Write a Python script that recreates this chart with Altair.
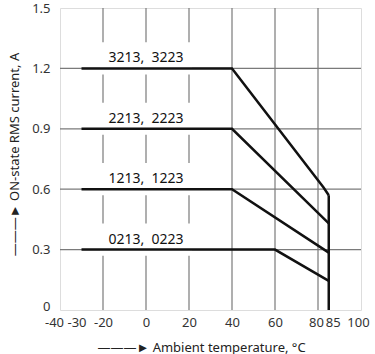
import altair as alt
import pandas as pd

NB = "\u00A0"
# Curves (ambient temperature °C, ON-state RMS current A)
names = ["3213," + NB + NB + "3223", "2213," + NB + NB + "2223",
         "1213," + NB + NB + "1223", "0213," + NB + NB + "0223"]
curve_t = [
    [-30, 40, 82.5, 85],
    [-30, 40, 85],
    [-30, 40, 85],
    [-30, 60, 85],
]
curve_i = [
    [1.2, 1.2, 0.61, 0.57],
    [0.9, 0.9, 0.43],
    [0.6, 0.6, 0.285],
    [0.3, 0.3, 0.145],
]
limit_t = [85, 85]
limit_i = [0, 0.57]

label_t = [0, 0, 0, 0]
label_i = [1.25, 0.95, 0.65, 0.35]

x_ticks = [-40, -30, -20, 0, 20, 40, 60, 80, 85, 100]
y_ticks = [0, 0.3, 0.6, 0.9, 1.2, 1.5]
x_grid = [-20, 0, 20, 40, 60, 80]
y_grid = [0.3, 0.6, 0.9, 1.2]

FONT = "Noto Sans"

rows = []
for n, ts, cs in zip(names, curve_t, curve_i):
    for k, (t, c) in enumerate(zip(ts, cs)):
        rows.append({"series": n, "t": t, "i": c, "o": k})
rows += [{"series": "limit", "t": t, "i": c, "o": k} for k, (t, c) in enumerate(zip(limit_t, limit_i))]
curves = pd.DataFrame(rows)
labels = pd.DataFrame({"name": names, "t": label_t, "i": label_i})
xg = pd.DataFrame({"t": x_grid})
yg = pd.DataFrame({"i": y_grid})

xscale = alt.Scale(domain=[-40, 100], nice=False, zero=False)
yscale = alt.Scale(domain=[0, 1.5], nice=False)

xaxis = alt.Axis(
    values=x_ticks, grid=False, ticks=False, domain=False,
    labelFont=FONT, labelFontSize=13, labelColor="#333", labelPadding=6,
    labelFlush=False, labelOverlap=False,
    labelExpr="'' + datum.value",
    labelOffset=alt.expr("datum.value == -40 ? -6 : datum.value == -30 ? -5 : datum.value == 80 ? -2 : datum.value == 85 ? 4 : datum.value == 100 ? -3 : 0"),
    title="\u2014\u2014\u2014\u25BA Ambient temperature, \u00B0C",
    titleFont=FONT, titleFontSize=13, titleFontWeight="normal", titleColor="#222",
    titleX=141, titleY=37, titleBaseline="middle", titleAlign="center",
)
yaxis = alt.Axis(
    values=y_ticks, grid=False, ticks=False, domain=False,
    labelFont=FONT, labelFontSize=13, labelColor="#333", labelPadding=10,
    labelOverlap=False, format=".1~f",
    labelOffset=alt.expr("datum.value == 0 ? -4 : 0"),
    title="\u2014\u2014\u2014\u25BA ON-state RMS current, A",
    titleFont=FONT, titleFontSize=13, titleFontWeight="normal", titleColor="#222",
    titleAngle=270, titleX=-46, titleY=146, titleBaseline="middle", titleAlign="center",
)

vgrid = alt.Chart(xg).mark_rule(color="#7a7a7a", strokeWidth=1.2).encode(
    x=alt.X("t:Q", scale=xscale, axis=xaxis)
)
hgrid = alt.Chart(yg).mark_rule(color="#7a7a7a", strokeWidth=1.2).encode(
    y=alt.Y("i:Q", scale=yscale, axis=yaxis)
)
boxes = alt.Chart(labels).mark_point(
    shape="M-1,-0.35L1,-0.35L1,0.35L-1,0.35Z", filled=True, fill="white",
    opacity=1, size=8464, strokeWidth=0,
).encode(x=alt.X("t:Q", scale=xscale, axis=xaxis), y=alt.Y("i:Q", scale=yscale, axis=yaxis))
lines = alt.Chart(curves).mark_line(color="#111", strokeWidth=2.5, strokeJoin="miter").encode(
    x=alt.X("t:Q", scale=xscale, axis=xaxis),
    y=alt.Y("i:Q", scale=yscale, axis=yaxis),
    detail="series:N",
    order="o:Q",
)
texts = alt.Chart(labels).mark_text(font=FONT, fontSize=14, color="#111", baseline="middle").encode(
    x=alt.X("t:Q", scale=xscale, axis=xaxis), y=alt.Y("i:Q", scale=yscale, axis=yaxis), text="name:N"
)

chart = alt.layer(vgrid, hgrid, boxes, lines, texts).properties(
    width=301, height=302,
    autosize=alt.AutoSizeParams(type="none"),
    padding={"left": 60, "top": 8, "right": 14, "bottom": 44},
).configure_view(stroke="#111", strokeWidth=2).configure_axis(
    labelOverlap=False
).configure(background="white")

chart.save("out.html", embed_options={"renderer": "svg", "actions": False})
